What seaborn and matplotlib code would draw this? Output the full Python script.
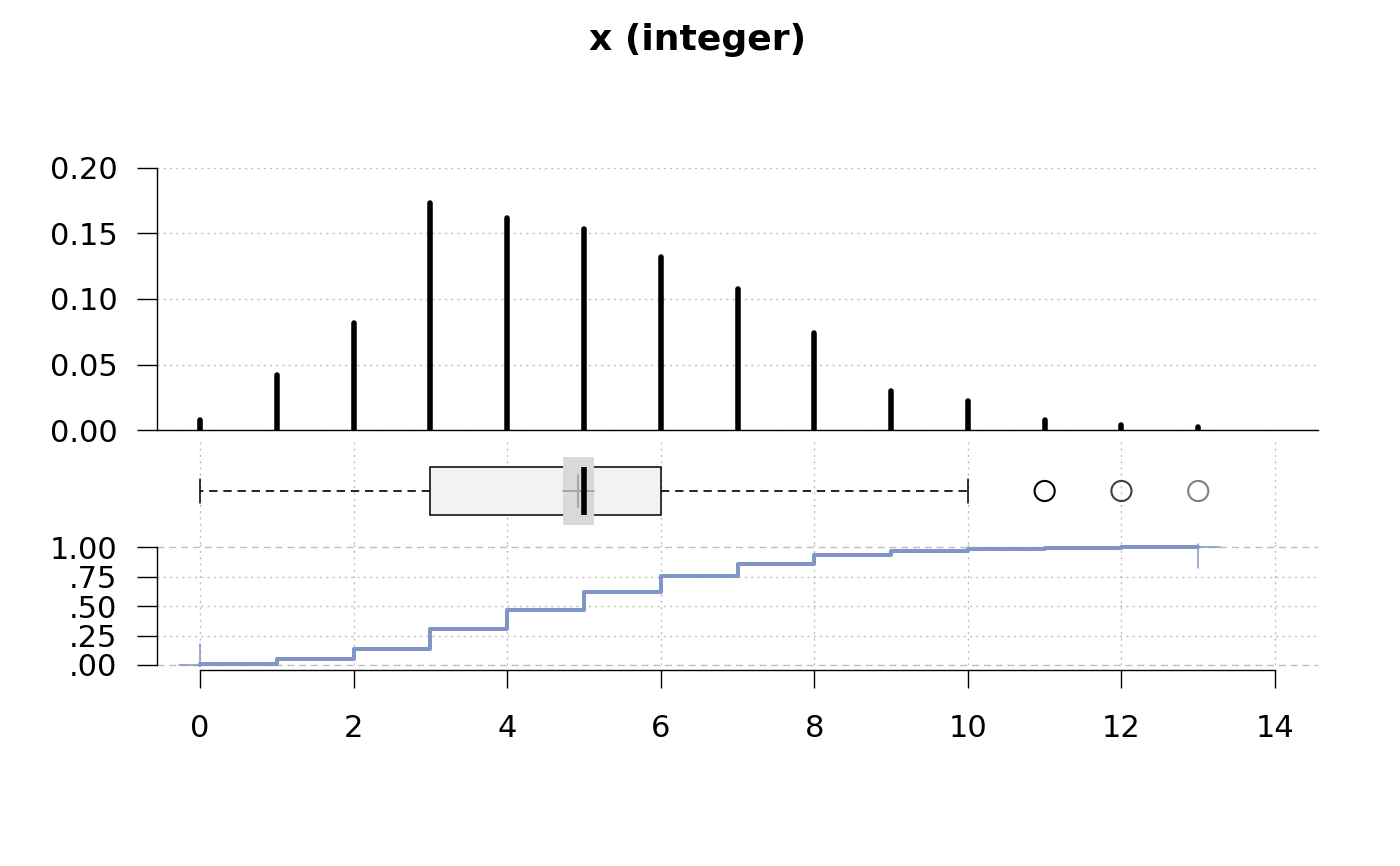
import numpy as np
import pandas as pd
import matplotlib
matplotlib.use("Agg")
import matplotlib.pyplot as plt
import seaborn as sns

# observed integer values and how often each occurs (n = 501)
values = [0, 1, 2, 3, 4, 5, 6, 7, 8, 9, 10, 11, 12, 13]
counts = [4, 21, 41, 87, 81, 77, 66, 54, 37, 15, 11, 4, 2, 1]
outlier_colors = ["#000000", "#404040", "#808080"]

freq_ticks = [0.0, 0.05, 0.10, 0.15, 0.20]
freq_labels = ["0.00", "0.05", "0.10", "0.15", "0.20"]
cdf_ticks = [0.0, 0.25, 0.5, 0.75, 1.0]
cdf_labels = [".00", ".25", ".50", ".75", "1.00"]
x_ticks = [0, 2, 4, 6, 8, 10, 12, 14]

sns.set_style("ticks")
plt.rcParams["font.family"] = ["DejaVu Sans"]
plt.rcParams["axes.linewidth"] = 1.0
for key in ["text.color", "axes.labelcolor", "axes.edgecolor",
            "xtick.color", "ytick.color"]:
    plt.rcParams[key] = "black"

df = pd.DataFrame({"x": values, "n": counts})
df["p"] = df["n"] / df["n"].sum()
samples = np.repeat(np.array(values), counts)

ecdf_color = "#8096c6"
grid_color = "#bebebe"
dotted = (0, (1.5, 3))
dashed = (0, (5, 3.5))
xlim = (-0.56, 14.56)

W, H = 1400, 866
def rect(l, t, r, b):
    return [l / W, 1 - b / H, (r - l) / W, (b - t) / H]

fig = plt.figure(figsize=(14, 8.66), dpi=100)
ax1 = fig.add_axes(rect(157, 168, 1318, 430))
ax2 = fig.add_axes(rect(157, 438, 1318, 544))
ax3 = fig.add_axes(rect(157, 543.5, 1318, 665))

# --- frequency spikes
lc = ax1.vlines(df["x"], 0, df["p"], color="black", lw=4)
lc.set_capstyle("round")
ax1.set_xlim(xlim)
ax1.set_ylim(0, 0.2)
ax1.set_yticks(freq_ticks, freq_labels)
ax1.set_xticks([])
ax1.grid(axis="y", color=grid_color, lw=1, linestyle=dotted)
ax1.set_axisbelow(True)
sns.despine(ax=ax1)
ax1.tick_params(axis="y", length=14.4, width=1, pad=14, labelsize=22)

# --- boxplot
sns.boxplot(x=samples, orient="h", ax=ax2, width=0.453, color="#f2f2f2",
            saturation=1, linecolor="black", linewidth=1.1, showfliers=False,
            whiskerprops={"linestyle": (0, (5, 3.5)), "linewidth": 1.2},
            medianprops={"linewidth": 4})
mean = samples.mean()
half = 1.96 * samples.std(ddof=1) / np.sqrt(len(samples))
ax2.fill_between([mean - half, mean + half], -0.32, 0.32, color="#d9d9d9",
                 lw=0, zorder=2.05)
ax2.plot([mean - half, mean + half], [0, 0], color="#a6a6a6", lw=1.4, zorder=2.06)
ax2.plot([mean, mean], [-0.155, 0.155], color="#a6a6a6", lw=1.4, zorder=2.06)

q1, q3 = np.percentile(samples, [25, 75])
upper = q3 + 1.5 * (q3 - q1)
out = [v for v in values if v > upper]
ax2.scatter(out, [0] * len(out), s=210, facecolors="none",
            edgecolors=outlier_colors, linewidths=1.5, zorder=3)
ax2.set_xlim(xlim)
ax2.set_ylim(0.5, -0.5)
ax2.set_xticks(x_ticks)
ax2.set_yticks([])
ax2.tick_params(axis="x", length=0, labelbottom=False)
ax2.grid(axis="x", color=grid_color, lw=1, linestyle=dotted)
ax2.set_axisbelow(True)
for s in ax2.spines.values():
    s.set_visible(False)

# --- empirical cdf
sns.ecdfplot(x=df["x"], weights=df["n"], ax=ax3, color=ecdf_color, lw=2.9)
lo, hi = min(values), max(values)
ax3.plot([lo - 0.28, lo], [0, 0], color=ecdf_color, lw=1.1)
ax3.plot([lo, lo], [0, 0.18], color=ecdf_color, lw=1.1)
ax3.plot([hi, hi + 0.28], [1, 1], color=ecdf_color, lw=1.1)
ax3.plot([hi, hi], [0.82, 1.03], color=ecdf_color, lw=1.1)
for y in cdf_ticks:
    ls = dashed if y in (0.0, 1.0) else dotted
    ax3.axhline(y, color=grid_color, lw=1, linestyle=ls, zorder=0.5)
for ln in ax3.lines:
    ln.set_clip_on(False)
ax3.set_xlim(xlim)
ax3.set_ylim(0, 1.03)
ax3.set_yticks(cdf_ticks, cdf_labels)
ax3.set_xticks(x_ticks)
ax3.set_xlabel("")
ax3.set_ylabel("")
ax3.grid(axis="x", color=grid_color, lw=1, linestyle=dotted)
ax3.set_axisbelow(True)
sns.despine(ax=ax3)
ax3.spines["left"].set_bounds(0, 1)
ax3.spines["bottom"].set_bounds(0, 14)
ax3.spines["bottom"].set_position(("outward", 3.6))
ax3.tick_params(axis="y", length=14.4, width=1, pad=14, labelsize=22)
ax3.tick_params(axis="x", length=13, width=1, pad=19, labelsize=22)

fig.text(0.4986, 1 - 40 / H, "x (integer)", ha="center", va="center",
         fontsize=26, fontweight="bold")

fig.savefig("out.png", dpi=100)
